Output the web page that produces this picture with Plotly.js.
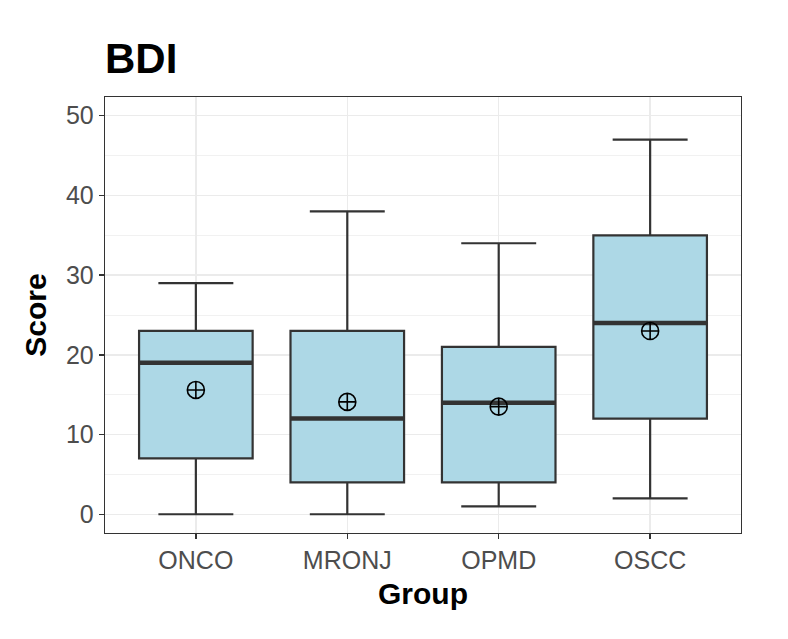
<!DOCTYPE html>
<html>
<head>
<meta charset="utf-8">
<script src="https://cdn.plot.ly/plotly-3.0.1.min.js"></script>
<style>html,body{margin:0;padding:0;background:#fff;}#chart{width:788px;height:639px;}</style>
</head>
<body>
<div id="chart"></div>
<script>
const groups = ["ONCO", "MRONJ", "OPMD", "OSCC"];
const lowerWhisker = [0, 0, 1, 2];
const q1 = [7, 4, 4, 12];
const medians = [19, 12, 14, 24];
const q3 = [23, 23, 21, 35];
const upperWhisker = [29, 38, 34, 47];
const means = [15.6, 14.1, 13.5, 23.0];
const yTicks = [0, 10, 20, 30, 40, 50];

const pos = groups.map((g, i) => i);
const boxWidth = 0.75;

const traces = [];
traces.push({
  type: "box",
  x: pos,
  q1: q1,
  median: medians,
  q3: q3,
  lowerfence: lowerWhisker,
  upperfence: upperWhisker,
  width: boxWidth,
  whiskerwidth: 0.66,
  fillcolor: "#ADD8E6",
  line: { color: "#333333", width: 2.2 },
  boxpoints: false,
  hoverinfo: "skip",
  showlegend: false
});
// thick median lines
groups.forEach((g, i) => {
  traces.push({
    type: "scatter",
    mode: "lines",
    x: [pos[i] - boxWidth / 2, pos[i] + boxWidth / 2],
    y: [medians[i], medians[i]],
    line: { color: "#333333", width: 4.5 },
    hoverinfo: "skip",
    showlegend: false
  });
});
traces.push({
  type: "scatter",
  mode: "markers",
  x: pos,
  y: means,
  marker: { symbol: "circle-cross-open", size: 17, color: "#000000", line: { width: 1.6, color: "#000000" } },
  hoverinfo: "skip",
  showlegend: false
});

const layout = {
  width: 788,
  height: 639,
  margin: { l: 105, r: 47, t: 97, b: 106 },
  paper_bgcolor: "#ffffff",
  plot_bgcolor: "#ffffff",
  font: { family: "Liberation Sans, Arial, sans-serif", color: "#000000" },
  title: {
    text: "<b>BDI</b>",
    font: { size: 42, color: "#000000" },
    x: 0, xref: "paper", xanchor: "left",
    y: 1 - 58 / 639, yref: "container", yanchor: "middle"
  },
  xaxis: {
    range: [-0.6, 3.6],
    tickmode: "array",
    tickvals: pos,
    ticktext: groups,
    ticks: "outside",
    ticklen: 5,
    tickwidth: 1.3,
    tickcolor: "#333333",
    tickfont: { size: 25, color: "#4D4D4D" },
    showgrid: true,
    gridcolor: "#EBEBEB",
    gridwidth: 1.4,
    zeroline: false,
    showline: true,
    linecolor: "#333333",
    linewidth: 1.3,
    mirror: true,
    title: { text: "<b>Group</b>", font: { size: 30, color: "#000000" }, standoff: 9 },
    automargin: false
  },
  yaxis: {
    range: [-2.35, 52.35],
    tickmode: "array",
    tickvals: yTicks,
    ticks: "outside",
    ticklen: 5,
    tickwidth: 1.3,
    tickcolor: "#333333",
    tickfont: { size: 25, color: "#4D4D4D" },
    showgrid: true,
    gridcolor: "#EBEBEB",
    gridwidth: 1.4,
    minor: { dtick: 5, tick0: 0, showgrid: true, gridcolor: "#F0F0F0", gridwidth: 0.9, ticks: "" },
    zeroline: false,
    showline: true,
    linecolor: "#333333",
    linewidth: 1.3,
    mirror: true,
    title: { text: "<b>Score</b>", font: { size: 30, color: "#000000" }, standoff: 10 },
    automargin: false
  }
};

Plotly.newPlot("chart", traces, layout, { displayModeBar: false, staticPlot: true });
</script>
</body>
</html>
